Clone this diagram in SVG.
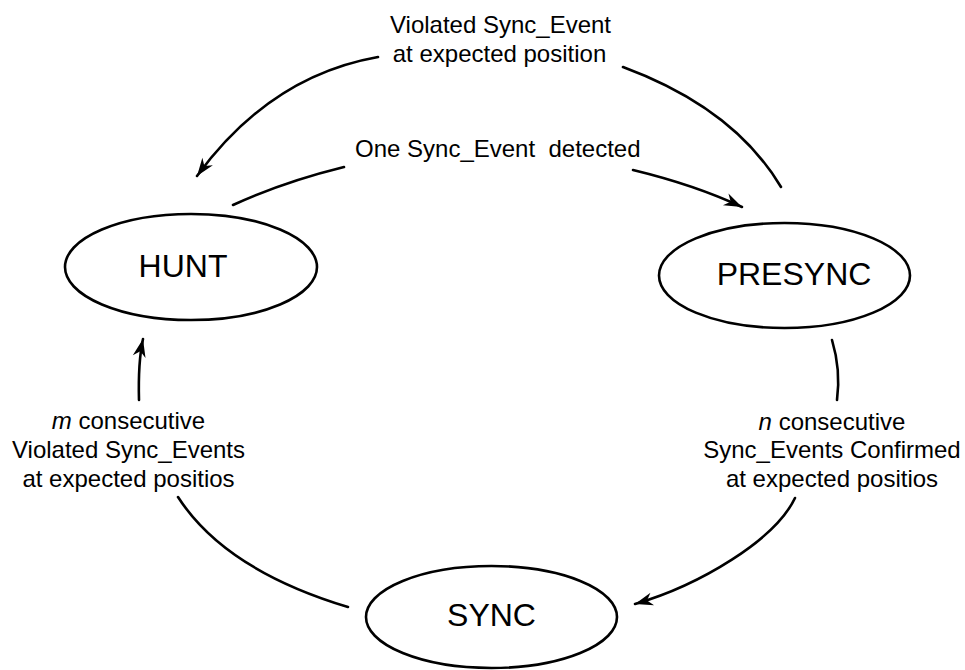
<svg xmlns="http://www.w3.org/2000/svg" width="965" height="670" viewBox="0 0 965 670">
  <style>
    .state { fill: #fff; stroke: #000; stroke-width: 2.6; }
    .state-label { font-family: "Liberation Sans", Arial, sans-serif; font-size: 32px; fill: #000; text-anchor: middle; }
    .label { font-family: "Liberation Sans", Arial, sans-serif; font-size: 24px; fill: #000; text-anchor: middle; white-space: pre; }
    .edge { fill: none; stroke: #000; stroke-width: 2.6; stroke-linecap: round; }
    .arrow { marker-end: url(#head); }
  </style>
  <defs>
    <marker id="head" viewBox="-20 -8 22 16" refX="0" refY="0" markerWidth="22" markerHeight="16" markerUnits="userSpaceOnUse" orient="auto">
      <path d="M0,0 L-18,-6.5 L-12.5,0 L-18,6.5 Z" fill="#000"/>
    </marker>
  </defs>

  <!-- transitions -->
  <g id="connectors">
    <!-- PRESYNC -> HUNT : violated event -->
    <path class="edge" d="M623,67 Q734,108 781,187"/>
    <path class="edge arrow" d="M378,57 Q270,76 197,176"/>
    <!-- HUNT -> PRESYNC : one event detected -->
    <path class="edge" d="M233,205 Q283,182 344,167"/>
    <path class="edge arrow" d="M633,170 Q695,185 742,207"/>
    <!-- PRESYNC -> SYNC : n confirmed -->
    <path class="edge" d="M832,340 Q841,370 837,400"/>
    <path class="edge arrow" d="M795,498 C775,540 700,585 635,604"/>
    <!-- SYNC -> HUNT : m violated -->
    <path class="edge" d="M348,607 Q225,570 178,497"/>
    <path class="edge arrow" d="M139,400 Q138,362 143,339"/>
  </g>

  <g id="edge-labels">
    <text class="label" x="500.5" y="33">Violated Sync_Event</text>
    <text class="label" x="499.5" y="62">at expected position</text>
    <text class="label" x="355" y="157" style="text-anchor:start">One Sync_Event  detected</text>
    <text class="label" x="128.5" y="429"><tspan font-style="italic">m</tspan> consecutive</text>
    <text class="label" x="128.5" y="458">Violated Sync_Events</text>
    <text class="label" x="128.5" y="487">at expected positios</text>
    <text class="label" x="832" y="430"><tspan font-style="italic">n</tspan> consecutive</text>
    <text class="label" x="832" y="458">Sync_Events Confirmed</text>
    <text class="label" x="832" y="487">at expected positios</text>
  </g>

  <g id="hunt">
    <ellipse class="state" cx="191" cy="267" rx="126" ry="53"/>
    <text class="state-label" x="183" y="277">HUNT</text>
  </g>
  <g id="presync">
    <ellipse class="state" cx="784.5" cy="275.5" rx="125.5" ry="52.5"/>
    <text class="state-label" x="794" y="285">PRESYNC</text>
  </g>
  <g id="sync">
    <ellipse class="state" cx="491.5" cy="617" rx="125.5" ry="51"/>
    <text class="state-label" x="491.5" y="626">SYNC</text>
  </g>
</svg>
